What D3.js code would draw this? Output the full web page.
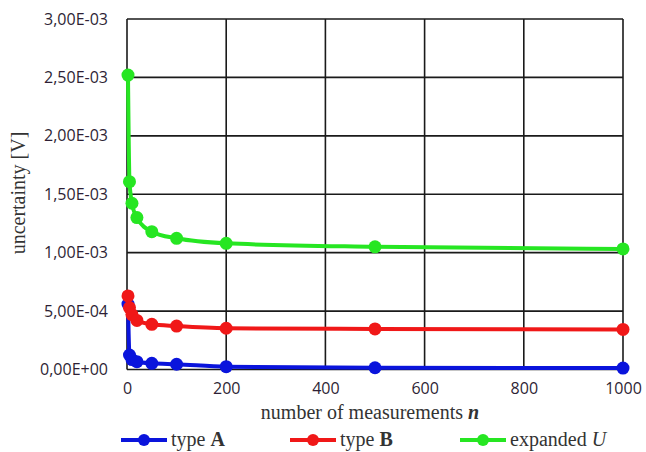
<!DOCTYPE html>
<html>
<head>
<meta charset="utf-8">
<script src="https://cdn.jsdelivr.net/npm/d3@7"></script>
<style>
  body { margin: 0; background: #fff; }
  svg { display: block; }
</style>
</head>
<body>
<svg></svg>
<script>
let width = 646, height = 452;

let svg = d3.select("svg")
    .attr("width", width)
    .attr("height", height);

// number of measurements
let nValues = [2, 5, 10, 20, 50, 100, 200, 500, 1000];
// uncertainties [V]
let typeA = [5.6e-4, 1.24e-4, 8.5e-5, 6.7e-5, 5.3e-5, 4.5e-5, 2.4e-5, 1.5e-5, 1.2e-5];
let typeB = [6.3e-4, 5.3e-4, 4.7e-4, 4.2e-4, 3.87e-4, 3.72e-4, 3.53e-4, 3.47e-4, 3.43e-4];
let expandedU = [2.52e-3, 1.608e-3, 1.423e-3, 1.30e-3, 1.18e-3, 1.123e-3, 1.08e-3, 1.05e-3, 1.032e-3];

let xTicks = [0, 200, 400, 600, 800, 1000];
let yTicks = [0, 5e-4, 1e-3, 1.5e-3, 2e-3, 2.5e-3, 3e-3];

let series = [
    { name: "type ", bold: "A", values: typeA, color: "#0a14dc" },
    { name: "type ", bold: "B", values: typeB, color: "#f01818" },
    { name: "expanded ", italic: "U", values: expandedU, color: "#26e622" }
];

let margin = { left: 127, right: 20, top: 19, bottom: 82 };

let x = d3.scaleLinear().domain([0, 1000]).range([margin.left, width - margin.right - 3]);
let y = d3.scaleLinear().domain([0, 3e-3]).range([height - margin.bottom - 0.5, margin.top]);

// 3,00E-03 style labels
function sciFormat(v) {
    let s = v.toExponential(2).split("e");
    let exp = +s[1];
    let sign = exp < 0 ? "-" : "+";
    return s[0].replace(".", ",") + "E" + sign + String(Math.abs(exp)).padStart(2, "0");
}

// grid
let grid = svg.append("g").attr("id", "grid");
grid.selectAll("line.h")
    .data(yTicks)
    .enter()
    .append("line")
    .attr("x1", x(0)).attr("x2", x(1000))
    .attr("y1", d => y(d)).attr("y2", d => y(d))
    .attr("stroke", "#1a1a1a")
    .attr("stroke-width", 1.6);
grid.selectAll("line.v")
    .data(xTicks)
    .enter()
    .append("line")
    .attr("x1", d => x(d)).attr("x2", d => x(d))
    .attr("y1", y(0)).attr("y2", y(3e-3))
    .attr("stroke", "#1a1a1a")
    .attr("stroke-width", 1.6);

// axes labels
let yAxis = d3.axisLeft(y).tickValues(yTicks).tickFormat(sciFormat).tickSize(0).tickPadding(19);
svg.append("g")
    .attr("transform", "translate(" + x(0) + ",0)")
    .call(yAxis)
    .call(g => g.select(".domain").remove())
    .selectAll("text")
    .attr("font-family", "'Open Sans', sans-serif")
    .attr("font-size", 16)
    .attr("fill", "#2e1f35");

let xAxis = d3.axisBottom(x).tickValues(xTicks).tickFormat(d3.format("d")).tickSize(0).tickPadding(13);
svg.append("g")
    .attr("transform", "translate(0," + y(0) + ")")
    .call(xAxis)
    .call(g => g.select(".domain").remove())
    .selectAll("text")
    .attr("font-family", "'Open Sans', sans-serif")
    .attr("font-size", 16)
    .attr("fill", "#2e1f35");

// axis titles
let xTitle = svg.append("text")
    .attr("x", 370)
    .attr("y", 419)
    .attr("text-anchor", "middle")
    .attr("font-family", "'Liberation Serif', serif")
    .attr("font-size", 20)
    .attr("fill", "#333");
xTitle.append("tspan").text("number of measurements ");
xTitle.append("tspan").text("n").attr("font-weight", "bold").attr("font-style", "italic");

svg.append("text")
    .attr("transform", "translate(18,193) rotate(-90)")
    .attr("text-anchor", "middle")
    .attr("dominant-baseline", "central")
    .attr("font-family", "'Liberation Serif', serif")
    .attr("font-size", 20)
    .attr("fill", "#333")
    .text("uncertainty [V]");

// series
let line = d3.line()
    .x((d, i) => x(nValues[i]))
    .y(d => y(d))
    .curve(d3.curveMonotoneX);

let plot = svg.append("g").attr("id", "series");
series.forEach(s => {
    plot.append("path")
        .datum(s.values)
        .attr("d", line)
        .attr("fill", "none")
        .attr("stroke", s.color)
        .attr("stroke-width", 4);
    plot.append("g")
        .selectAll("circle")
        .data(s.values)
        .enter()
        .append("circle")
        .attr("cx", (d, i) => x(nValues[i]))
        .attr("cy", d => y(d))
        .attr("r", 6.5)
        .attr("fill", s.color);
});

// legend
let legendX = [121, 290, 460];
let legend = svg.append("g").attr("id", "legend");
series.forEach((s, i) => {
    let g = legend.append("g").attr("transform", "translate(" + legendX[i] + ",440)");
    g.append("line")
        .attr("x1", 0).attr("x2", 46)
        .attr("stroke", s.color)
        .attr("stroke-width", 4);
    g.append("circle")
        .attr("cx", 23)
        .attr("r", 6)
        .attr("fill", s.color);
    let t = g.append("text")
        .attr("x", 50)
        .attr("y", 6)
        .attr("font-family", "'Liberation Serif', serif")
        .attr("font-size", 20)
        .attr("fill", "#333");
    t.append("tspan").text(s.name);
    if (s.bold) t.append("tspan").text(s.bold).attr("font-weight", "bold");
    if (s.italic) t.append("tspan").text(s.italic).attr("font-style", "italic");
});
</script>
</body>
</html>
